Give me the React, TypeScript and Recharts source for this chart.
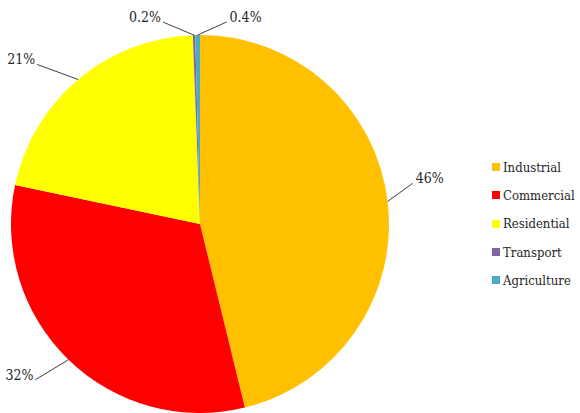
import React from "react";
import { PieChart, Pie, Cell, Legend } from "recharts";

const sectors = ["Industrial", "Commercial", "Residential", "Transport", "Agriculture"];
const shares = [46, 32, 21, 0.2, 0.4];
const colors = ["#FFC000", "#FF0000", "#FFFF00", "#8064A2", "#4BACC6"];

// where each label's leader line ends, relative to the slice edge
const labelOffsets = [
  { dx: 25, dy: -18, anchor: "start" },
  { dx: -33, dy: 20, anchor: "end" },
  { dx: -41, dy: -15, anchor: "end" },
  { dx: -31, dy: -13, anchor: "end" },
  { dx: 29, dy: -13, anchor: "start" },
];

const data = sectors.map((name, i) => ({ name, value: shares[i] }));

const FONT = "'DejaVu Serif Condensed', 'DejaVu Serif', serif";
const RADIAN = Math.PI / 180;

const renderLabel = (props: any) => {
  const { cx, cy, midAngle, outerRadius, index, value } = props;
  const sx = cx + outerRadius * Math.cos(-midAngle * RADIAN);
  const sy = cy + outerRadius * Math.sin(-midAngle * RADIAN);
  const off = labelOffsets[index];
  const ex = sx + off.dx;
  const ey = sy + off.dy;
  const tx = off.anchor === "start" ? ex + 3 : ex - 2;
  return (
    <g key={`lbl-${index}`}>
      <polyline points={`${sx},${sy} ${ex},${ey}`} fill="none" stroke="#404040" strokeWidth={1} />
      <text
        x={tx}
        y={ey - 5}
        textAnchor={off.anchor}
        dominantBaseline="central"
        style={{ fontFamily: FONT }}
        fontSize={14}
        fill="#262626"
      >
        {value}%
      </text>
    </g>
  );
};

const LegendBox = () => (
  <div style={{ fontFamily: FONT, fontSize: 13, color: "#262626", whiteSpace: "nowrap" }}>
    {sectors.map((name, i) => (
      <div key={name} style={{ display: "flex", alignItems: "center", height: 28.3 }}>
        <span style={{ width: 8, height: 8, background: colors[i], marginRight: 3, flexShrink: 0 }} />
        <span>{name}</span>
      </div>
    ))}
  </div>
);

export default function App() {
  return (
    <div style={{ width: 580, height: 413, background: "#fff" }}>
      <style>{`body{margin:0}`}</style>
      <PieChart width={580} height={413} margin={{ top: 0, right: 0, bottom: 0, left: 0 }}>
        <Pie
          data={data}
          dataKey="value"
          nameKey="name"
          cx={200}
          cy={224}
          outerRadius={189}
          startAngle={90}
          endAngle={-270}
          stroke="none"
          label={renderLabel}
          labelLine={false}
          isAnimationActive={false}
        >
          {data.map((d, i) => (
            <Cell key={d.name} fill={colors[i]} />
          ))}
        </Pie>
        <Legend
          layout="vertical"
          content={<LegendBox />}
          wrapperStyle={{ position: "absolute", left: 492, top: 153, width: 88 }}
        />
      </PieChart>
    </div>
  );
}
